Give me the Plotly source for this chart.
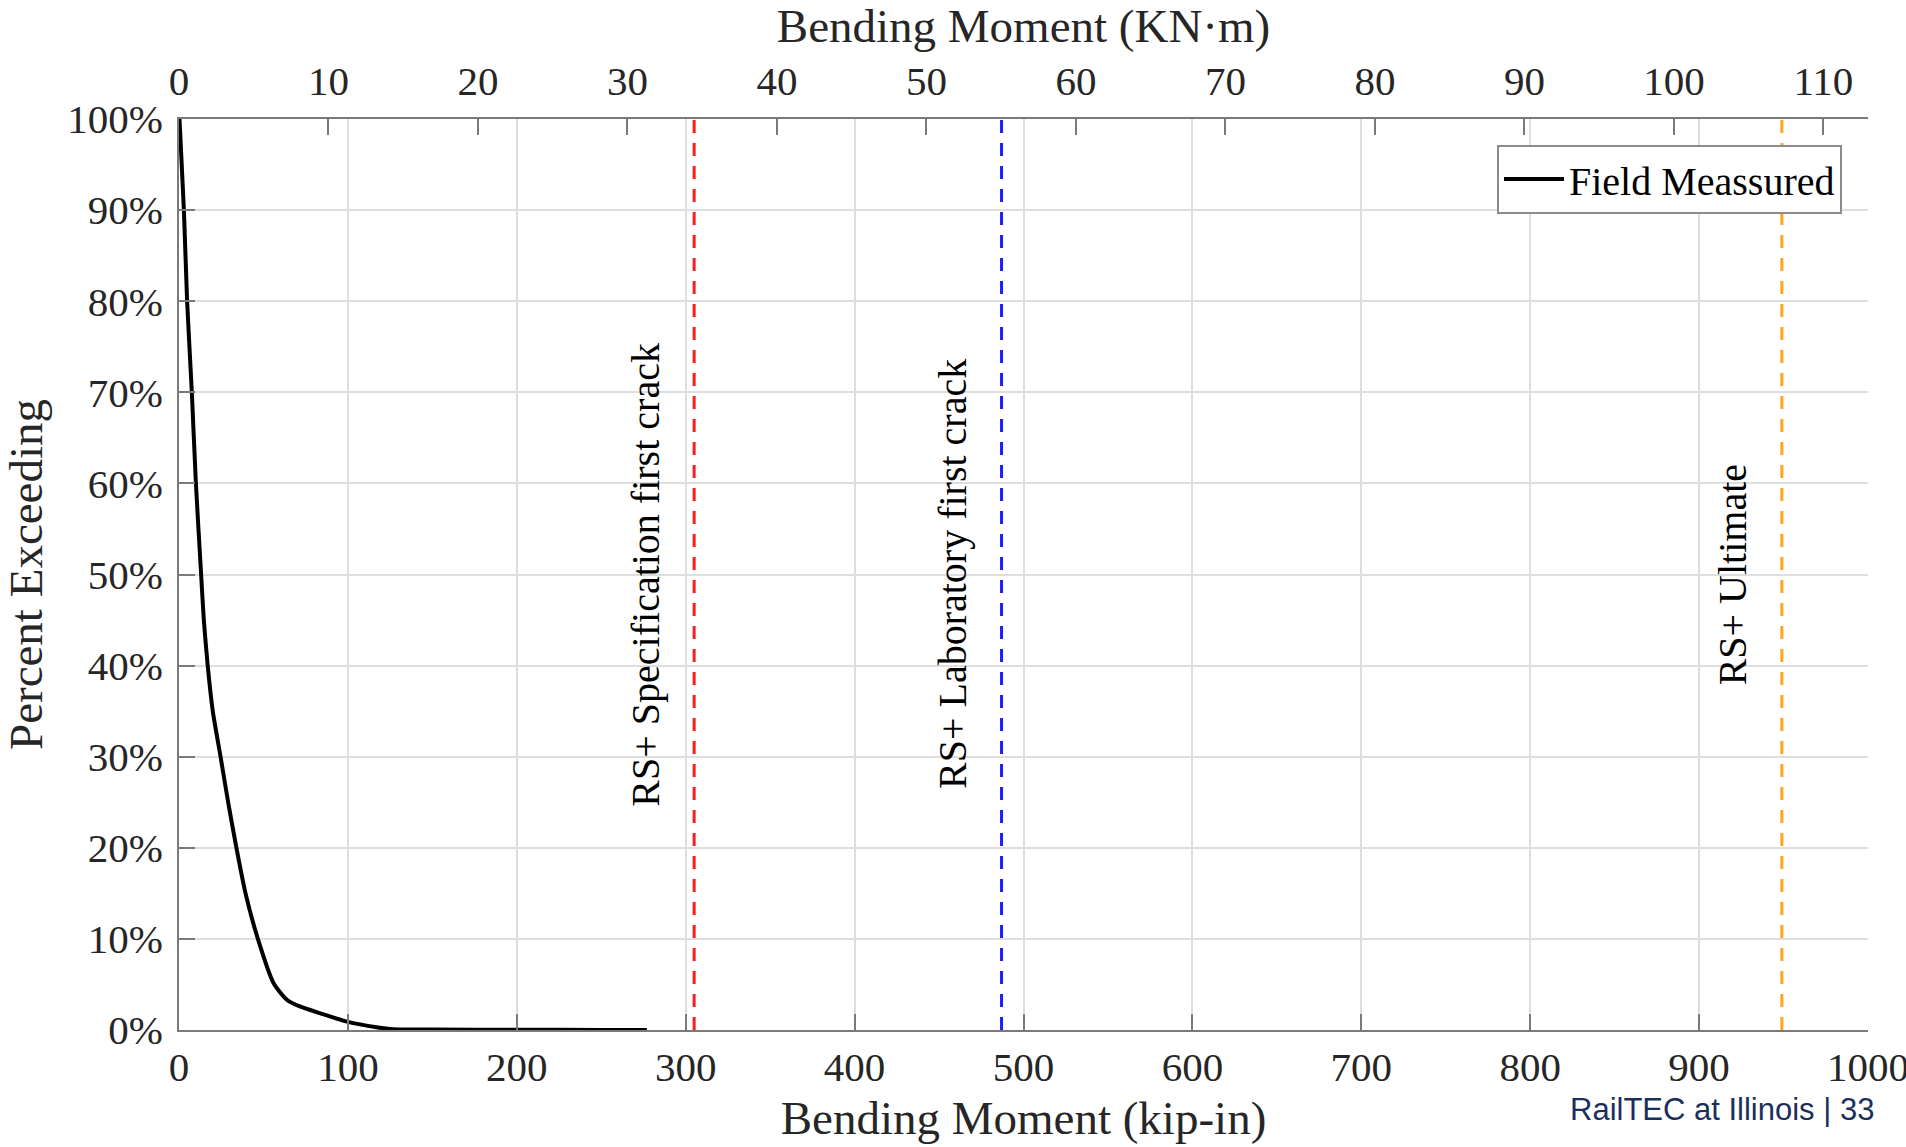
import plotly.graph_objects as go

# Field-measured bending moment exceedance curve (kip-in vs percent exceeding)
moment_kipin = [0.3, 2.9, 4.8, 7.6, 10.0, 13.1, 14.7, 17.0, 20.0, 24.6, 29.1, 34.0, 39.4,
                46.7, 56.1, 64.0, 71.9, 83.8, 99.5, 117.0, 127.0, 150.0, 200.0, 250.0, 277.0]
pct_exceeding = [100, 90, 80, 70, 60, 50, 45, 40, 35, 30, 25, 20, 15,
                 10, 5.1, 3.3, 2.56, 1.83, 0.92, 0.3, 0.08, 0.05, 0.03, 0.01, 0.0]

# Reference capacities (kip-in)
ref_names = ["RS+ Specification first crack", "RS+ Laboratory first crack", "RS+ Ultimate"]
ref_values = [305, 487, 949]
ref_colors = ["#ff1c1c", "#1c1cff", "#ffa51f"]

# Axis ticks
x_ticks = [0, 100, 200, 300, 400, 500, 600, 700, 800, 900, 1000]
knm_ticks = [0, 10, 20, 30, 40, 50, 60, 70, 80, 90, 100, 110]
y_ticks = [0, 10, 20, 30, 40, 50, 60, 70, 80, 90, 100]
y_ticktext = [f"{v}%" for v in y_ticks]

KIPIN_TO_KNM = 0.112985
X_MAX = 1000

SERIF = "Liberation Serif, Times New Roman, serif"
TXT = "#262626"
AXIS = "#7a7a7a"
GRID = "#dedede"

fig = go.Figure()

fig.add_trace(go.Scatter(
    x=moment_kipin, y=pct_exceeding, mode="lines",
    line=dict(color="black", width=4, shape="spline", smoothing=0.6),
    name="Field Meassured",
))

# same curve on the kN·m axis so the top axis is tied to data
fig.add_trace(go.Scatter(
    x=[v * KIPIN_TO_KNM for v in moment_kipin], y=pct_exceeding, xaxis="x2",
    mode="lines", line=dict(color="rgba(0,0,0,0)", width=0),
    showlegend=False, hoverinfo="skip",
))

for name, val, col in zip(ref_names, ref_values, ref_colors):
    fig.add_shape(type="line", xref="x", yref="y", x0=val, x1=val, y0=0, y1=100,
                  line=dict(color=col, width=3, dash="13px,10px"))
    fig.add_annotation(x=val, y=50, xref="x", yref="y", text=name, textangle=-90,
                       showarrow=False, xshift=-49, xanchor="center", yanchor="middle",
                       font=dict(family=SERIF, size=40, color="black"))

fig.add_annotation(
    x=1.0047, y=-0.0878, xref="paper", yref="paper",
    text="RailTEC at Illinois | 33", showarrow=False,
    xanchor="right", yanchor="middle",
    font=dict(family="Liberation Sans, Arial, sans-serif", size=31, color="#1b2f5b"),
)

fig.update_layout(
    width=1906, height=1147,
    margin=dict(l=178.5, r=38, t=119, b=117, autoexpand=False),
    paper_bgcolor="white", plot_bgcolor="white",
    font=dict(family=SERIF, color=TXT),
    xaxis=dict(
        range=[0, X_MAX], tickvals=x_ticks, ticks="inside", ticklen=16, tickwidth=2,
        tickcolor=AXIS, showline=True, linecolor=AXIS, linewidth=2,
        showgrid=True, gridcolor=GRID, gridwidth=2, zeroline=False,
        tickfont=dict(size=41, color=TXT), automargin=False, ticklabeloverflow="allow",
        title=dict(text="Bending Moment (kip-in)", font=dict(size=47, color=TXT), standoff=12),
    ),
    xaxis2=dict(
        range=[0, X_MAX * KIPIN_TO_KNM], overlaying="x", side="top", anchor="y",
        tickvals=knm_ticks, ticks="inside", ticklen=16, tickwidth=2, tickcolor=AXIS,
        showline=True, linecolor=AXIS, linewidth=2, showgrid=False, zeroline=False,
        tickfont=dict(size=41, color=TXT), automargin=False, ticklabelstandoff=6,
        ticklabeloverflow="allow",
        title=dict(text="Bending Moment (KN·m)", font=dict(size=47, color=TXT), standoff=6),
    ),
    yaxis=dict(
        range=[0, 100], tickvals=y_ticks, ticktext=y_ticktext, ticks="inside",
        ticklen=16, tickwidth=2, tickcolor=AXIS, showline=True, linecolor=AXIS,
        linewidth=2, showgrid=True, gridcolor=GRID, gridwidth=2, zeroline=False,
        tickfont=dict(size=41, color=TXT), automargin=False, ticklabelstandoff=6,
        title=dict(text="Percent Exceeding", font=dict(size=47, color=TXT), standoff=12),
    ),
    legend=dict(
        x=0.9846, y=0.972, xanchor="right", yanchor="top",
        bgcolor="white", bordercolor="#8c8c8c", borderwidth=2,
        font=dict(family=SERIF, size=40, color="black"),
        itemwidth=60,
    ),
    showlegend=True,
)

fig.write_html("out.html")
